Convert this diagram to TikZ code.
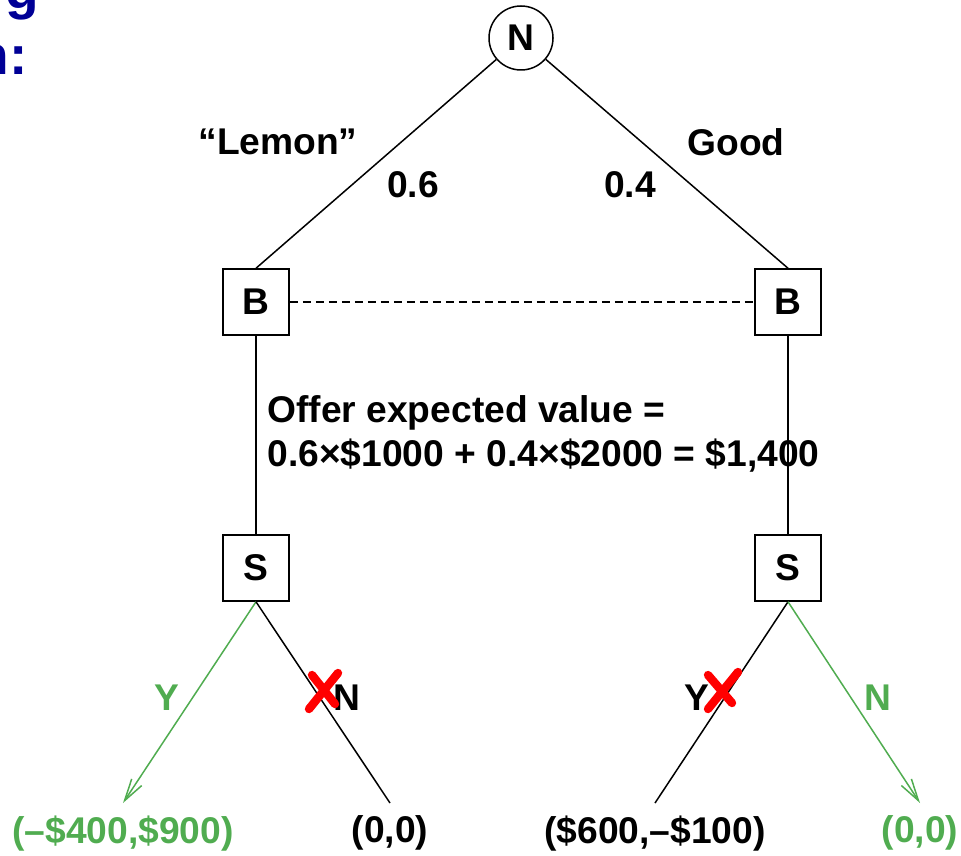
\documentclass[tikz,border=0pt]{standalone}
\usepackage{fontspec}
\setmainfont{Liberation Sans}
\usetikzlibrary{arrows.meta,positioning}
\definecolor{payoffgreen}{RGB}{80,172,80}
\definecolor{titleblue}{RGB}{0,0,150}
\definecolor{crossred}{RGB}{255,0,0}

\begin{document}
\begin{tikzpicture}[x=0.5pt,y=-0.5pt,
  font=\fontsize{18.6}{22}\selectfont\bfseries,
  edge/.style={line width=0.75pt},
  chance/.style={draw,circle,line width=0.75pt,minimum size=32pt,inner sep=0pt},
  player/.style={draw,rectangle,line width=0.75pt,minimum size=33pt,inner sep=0pt},
  payoff/.style={anchor=north,inner sep=6pt},
  chosen/.style={line width=0.75pt,payoffgreen,-{Straight Barb[length=11pt,width=6pt]}},
  cross/.style={crossred,line width=4.2pt,line cap=round},
  titletext/.style={anchor=base east,inner sep=0pt,titleblue,font=\fontsize{27.5}{33}\selectfont\bfseries}]
\clip (0,0) rectangle (961,855);
% Title, cut off at the left edge
\node[titletext] (titleA) at (39,8.5) {g};
\node[titletext] (titleB) at (28,75) {n:};
% Nature, buyer and seller nodes
\node[chance] (nat) at (521,38) {N};
\node[player] (buyL) at (256,302) {B};
\node[player] (buyR) at (788,302) {B};
\node[player] (selL) at (256,568) {S};
\node[player] (selR) at (788,568) {S};
% Payoffs
\node[payoff,payoffgreen] (payLY) at (123,803) {(–\$400,\$900)};
\node[payoff] (payLN) at (390,803) {(0,0)};
\node[payoff] (payRY) at (655,803) {(\$600,–\$100)};
\node[payoff,payoffgreen] (payRN) at (920,803) {(0,0)};
% Branch labels
\node (lemon) at (278,142) {“Lemon”};
\node (probL) at (413,185) {0.6};
\node (good) at (736,142) {Good};
\node (probR) at (630,185) {0.4};
\node[anchor=west,align=left,inner sep=0pt] (offer) at (267,434)
  {Offer expected value =\\0.6×\$1000 + 0.4×\$2000 = \$1,400};
\node[payoffgreen] (accL) at (167,698) {Y};
\node (rejL) at (347,698) {N};
\node (accR) at (697,698) {Y};
\node[payoffgreen] (rejR) at (878,698) {N};
% Edges
\draw[edge] (nat) -- (buyL.north);
\draw[edge] (nat) -- (buyR.north);
\draw[edge,dash pattern=on 4pt off 2.5pt] (buyL) -- (buyR);
\draw[edge] (buyL) -- (selL);
\draw[edge] (buyR) -- (selR);
\draw[chosen] (selL.south) -- (payLY.north);
\draw[edge] (selL.south) -- (payLN.north);
\draw[edge] (selR.south) -- (payRY.north);
\draw[chosen] (selR.south) -- (payRN.north);
% Crossed-out choices
\draw[cross] (312,675) -- (335,704);
\draw[cross] (338,673) -- (309,709);
\draw[cross] (708,675) -- (732,703);
\draw[cross] (738,672) -- (708,709);
\end{tikzpicture}
\end{document}
